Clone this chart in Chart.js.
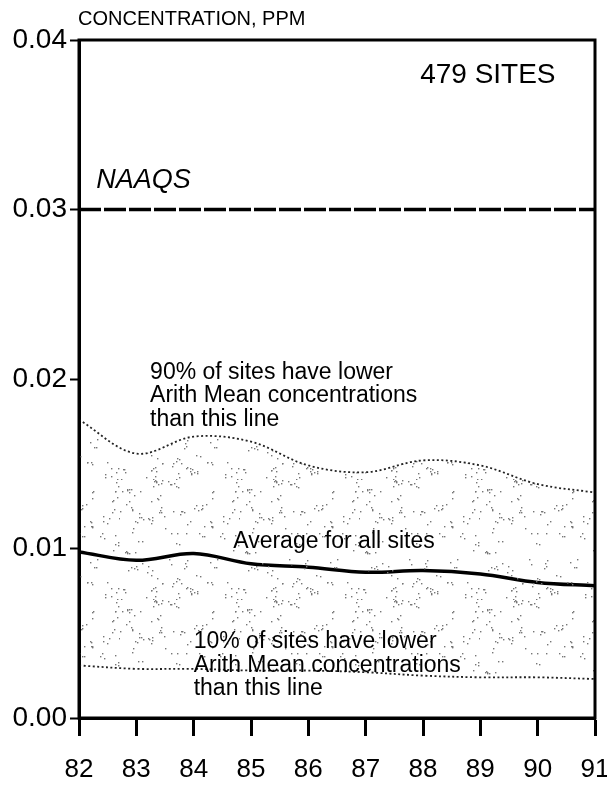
<!DOCTYPE html>
<html>
<head>
<meta charset="utf-8">
<script src="https://cdn.jsdelivr.net/npm/chart.js@4.4.0/dist/chart.umd.min.js"></script>
<style>
    html, body { margin: 0; padding: 0; background: #fff; }
    canvas { display: block; }
</style>
</head>
<body>
<canvas id="trendChart" width="607" height="787"></canvas>
<script>
// Values (ppm)
const years = [82, 83, 84, 85, 86, 87, 88, 89, 90, 91];
const pct90 = [0.0176, 0.0156, 0.0166, 0.0163, 0.0149, 0.0145, 0.0152, 0.0149, 0.0138, 0.0133];
const average = [0.0098, 0.0093, 0.0097, 0.0091, 0.0089, 0.0086, 0.0087, 0.0085, 0.0080, 0.0078];
const pct10 = [0.0031, 0.0029, 0.0029, 0.0028, 0.0028, 0.0027, 0.0025, 0.0024, 0.0024, 0.0023];
const naaqsLevel = 0.03;
const yMin = 0;
const yMax = 0.04;
const yStep = 0.01;

const FONT = '"Liberation Sans", Arial, Helvetica, sans-serif';

// Text notes, anchored in data units (left edge, first line centre)
const notes = [
    { lines: ['479 SITES'], x: 87.95, y: 0.0379, size: 28, style: 'normal' },
    { lines: ['NAAQS'], x: 82.30, y: 0.0317, size: 27, style: 'italic' },
    { lines: ['90% of sites have lower', 'Arith Mean concentrations', 'than this line'], x: 83.24, y: 0.0204, size: 23, style: 'normal' },
    { lines: ['Average for all sites'], x: 84.69, y: 0.0104, size: 23, style: 'normal' },
    { lines: ['10% of sites have lower', 'Arith Mean concentrations', 'than this line'], x: 84.00, y: 0.0045, size: 23, style: 'normal' }
];

function toPoints(values) {
    return years.map((yr, i) => ({ x: yr, y: values[i] }));
}

// Sparse grey stipple used for the band between the 10% and 90% lines
function makeStipple(ctx) {
    const size = 120;
    const c = document.createElement('canvas');
    c.width = size;
    c.height = size;
    const g = c.getContext('2d');
    g.fillStyle = '#777';
    let s = 17;
    const next = () => {
        s = (s * 9301 + 49297) % 233280;
        return s / 233280;
    };
    for (let i = 0; i < 80; i++) {
        // small clumps of dots, like the scanned screen tone
        const cx = Math.floor(next() * size);
        const cy = Math.floor(next() * size);
        const n = 1 + Math.floor(next() * 4);
        for (let k = 0; k < n; k++) {
            const px = (cx + Math.floor(next() * 9) - 4 + size) % size;
            const py = (cy + Math.floor(next() * 9) - 4 + size) % size;
            g.fillRect(px, py, 1.4, 1.4);
        }
    }
    return ctx.createPattern(c, 'repeat');
}

// Box around the plot area
const framePlugin = {
    id: 'frame',
    afterDatasetsDraw(chart) {
        const { ctx, chartArea: a } = chart;
        ctx.save();
        ctx.strokeStyle = '#000';
        ctx.lineWidth = 3;
        ctx.strokeRect(a.left, a.top, a.right - a.left, a.bottom - a.top);
        ctx.restore();
    }
};

// Axis title and in-plot notes
const textPlugin = {
    id: 'notes',
    afterDraw(chart) {
        const { ctx, scales } = chart;
        ctx.save();
        ctx.fillStyle = '#000';
        ctx.textBaseline = 'middle';
        ctx.textAlign = 'left';

        ctx.font = '20px ' + FONT;
        ctx.fillText('CONCENTRATION, PPM', 78, 19);

        notes.forEach(n => {
            ctx.font = n.style + ' ' + n.size + 'px ' + FONT;
            const left = scales.x.getPixelForValue(n.x);
            const top = scales.y.getPixelForValue(n.y);
            n.lines.forEach((line, i) => {
                ctx.fillText(line, left, top + i * 23.5);
            });
        });
        ctx.restore();
    }
};

const canvas = document.getElementById('trendChart');
const ctx = canvas.getContext('2d');

new Chart(ctx, {
    type: 'line',
    data: {
        datasets: [
            {
                label: '10th percentile',
                data: toPoints(pct10),
                borderColor: '#222',
                borderWidth: 1.8,
                borderDash: [2, 2.5],
                tension: 0.35,
                pointRadius: 0,
                fill: false
            },
            {
                label: '90th percentile',
                data: toPoints(pct90),
                borderColor: '#222',
                borderWidth: 1.8,
                borderDash: [2, 2.5],
                tension: 0.35,
                pointRadius: 0,
                backgroundColor: makeStipple(ctx),
                fill: 0
            },
            {
                label: 'Average',
                data: toPoints(average),
                borderColor: '#000',
                borderWidth: 3.5,
                tension: 0.35,
                pointRadius: 0,
                fill: false
            },
            {
                label: 'NAAQS',
                data: years.map(yr => ({ x: yr, y: naaqsLevel })),
                borderColor: '#000',
                borderWidth: 3.5,
                borderDash: [22, 3],
                pointRadius: 0,
                fill: false
            }
        ]
    },
    options: {
        responsive: false,
        animation: false,
        devicePixelRatio: 1,
        layout: {
            padding: { top: 40, right: 12, bottom: 0, left: 0 }
        },
        plugins: {
            legend: { display: false },
            tooltip: { enabled: false }
        },
        scales: {
            x: {
                type: 'linear',
                min: years[0],
                max: years[years.length - 1],
                afterFit: scale => {
                    scale.height = 69;
                    scale.paddingLeft = 0;
                    scale.paddingRight = 0;
                },
                border: { display: true, color: '#000', width: 3 },
                grid: {
                    drawOnChartArea: false,
                    drawTicks: true,
                    tickLength: 18,
                    tickWidth: 3,
                    tickColor: '#000'
                },
                ticks: {
                    stepSize: 1,
                    color: '#000',
                    padding: 18,
                    maxRotation: 0,
                    font: { family: FONT, size: 26 },
                    callback: v => String(v)
                }
            },
            y: {
                min: yMin,
                max: yMax,
                afterFit: scale => {
                    scale.width = 79;
                    scale.paddingTop = 0;
                    scale.paddingBottom = 0;
                },
                border: { display: true, color: '#000', width: 3 },
                grid: {
                    drawOnChartArea: false,
                    drawTicks: true,
                    tickLength: 9,
                    tickWidth: 2,
                    tickColor: '#000'
                },
                ticks: {
                    stepSize: yStep,
                    color: '#000',
                    padding: 3,
                    font: { family: FONT, size: 28 },
                    callback: v => v.toFixed(2)
                }
            }
        }
    },
    plugins: [framePlugin, textPlugin]
});
</script>
</body>
</html>
